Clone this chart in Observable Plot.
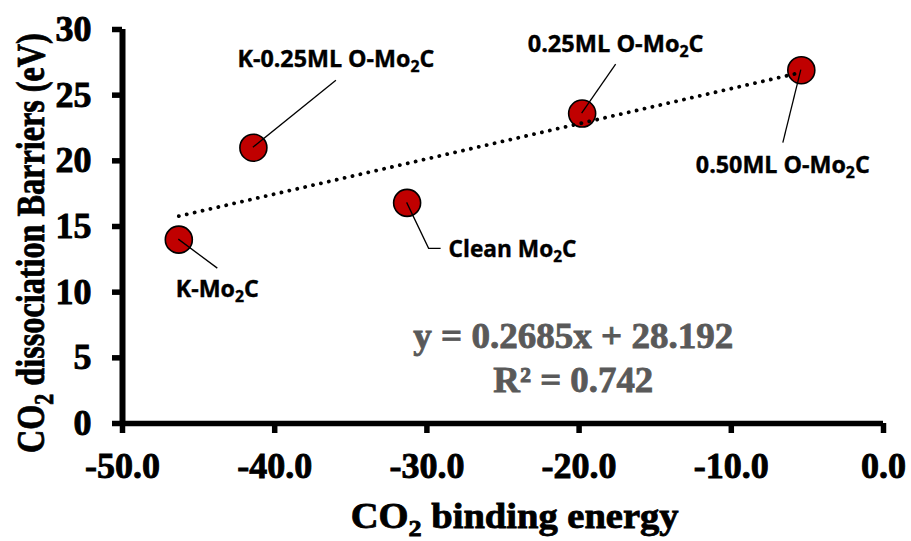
<!DOCTYPE html>
<html>
<head>
<meta charset="utf-8">
<script src="https://cdn.jsdelivr.net/npm/d3@7"></script>
<script src="https://cdn.jsdelivr.net/npm/@observablehq/plot@0.6"></script>
<style>
  body { margin: 0; background: #fff; }
  #chart svg { display: block; background: #fff; }
</style>
</head>
<body>
<div id="chart"></div>
<script>
// ---------------- data ----------------
const samples = ["K-Mo₂C", "K-0.25ML O-Mo₂C", "Clean Mo₂C", "0.25ML O-Mo₂C", "0.50ML O-Mo₂C"];
const bindingEnergy = [-46.3, -41.4, -31.3, -19.8, -5.4];
const barrier = [14.0, 21.0, 16.8, 23.6, 26.9];
const xTicks = [-50, -40, -30, -20, -10, 0];
const xTickLabels = ["-50.0", "-40.0", "-30.0", "-20.0", "-10.0", "0.0"];
const yTicks = [0, 5, 10, 15, 20, 25, 30];
const yTickLabels = ["0", "5", "10", "15", "20", "25", "30"];
const equationText = "y = 0.2685x + 28.192";
const r2Text = "R² = 0.742";
const xTitle = "CO₂ binding energy";
const yTitle = "CO₂ dissociation Barriers (eV)";

// ---------------- layout (pixels, relative to each point) ----------------
const labelLayout = [
  {path: [[0, 0], [39, 29]], tx: 39, ty: 58, anchor: "middle", w: 83},
  {path: [[0, 0], [83, -67]], tx: 83, ty: -80, anchor: "middle", w: 197},
  {path: [[0, 0], [22, 46], [34, 46]], tx: 42, ty: 55, anchor: "start", w: 128},
  {path: [[0, 0], [34, -49]], tx: 34, ty: -61, anchor: "middle", w: 176},
  {path: [[0, 0], [-18, 73]], tx: -18, ty: 103, anchor: "middle", w: 174}
];

const data = samples.map((s, i) => ({sample: s, x: bindingEnergy[i], y: barrier[i]}));
const serif = "'Liberation Serif', 'Times New Roman', serif";
const sans = "'Open Sans', 'Noto Sans', sans-serif";

const plot = Plot.plot({
  width: 911,
  height: 541,
  marginLeft: 122,
  marginRight: 28,
  marginTop: 29,
  marginBottom: 118,
  style: {fontFamily: serif, fontSize: "36px", fontWeight: "bold", color: "black", background: "white"},
  x: {domain: [-50, 0]},
  y: {domain: [0, 30]},
  marks: [
    Plot.axisX({ticks: xTicks, tickFormat: d => xTickLabels[xTicks.indexOf(d)], tickSize: 10, tickPadding: 19, strokeWidth: 5.5, label: null}),
    Plot.axisY({ticks: yTicks, tickFormat: d => yTickLabels[yTicks.indexOf(d)], tickSize: 10, tickPadding: 21, strokeWidth: 5.5, label: null}),
    Plot.ruleY([0], {stroke: "black", strokeWidth: 5.5}),
    Plot.ruleX([-50], {stroke: "black", strokeWidth: 6}),
    Plot.dot(data, {x: "x", y: "y", r: 13.5, fill: "#C00000", stroke: "black", strokeWidth: 1.6}),
    Plot.linearRegressionY(data, {x: "x", y: "y", ci: 0, stroke: "black", strokeWidth: 3.8, strokeDasharray: "0.1 8", strokeLinecap: "round"})
  ]
});

document.getElementById("chart").appendChild(plot);
const svg = d3.select(plot);
const sx = plot.scale("x"), sy = plot.scale("y");

// tick label styling (only the axis texts exist at this point)
svg.selectAll("text")
  .style("font-size", "36px").style("font-weight", "bold").style("font-family", serif)
  .style("fill", "black").style("stroke", "black").style("stroke-width", "0.9px");

// text with subscript "₂"
function richText(g, str, opts) {
  const fs = opts.fontSize;
  const fill = opts.fill || "black";
  const t = g.append("text")
    .attr("font-family", opts.family)
    .attr("font-size", fs)
    .attr("font-weight", "bold")
    .attr("fill", fill)
    .attr("stroke", fill)
    .attr("stroke-width", opts.halo || 0)
    .attr("text-anchor", opts.anchor || "middle");
  const parts = str.split("₂");
  parts.forEach((p, i) => {
    if (i > 0) {
      t.append("tspan").attr("font-size", fs * 0.68).attr("dy", fs * 0.22).text("2");
      t.append("tspan").attr("dy", -fs * 0.22).text(p);
    } else {
      t.append("tspan").text(p);
    }
  });
  const w0 = t.node().getComputedTextLength();
  const k = opts.width ? opts.width / w0 : 1;
  t.attr("transform", `translate(${opts.x},${opts.y}) rotate(${opts.rotate || 0}) scale(${k},1)`);
  return t;
}

const ann = svg.append("g");
// leader lines and point labels
data.forEach((d, i) => {
  const cx = sx.apply(d.x), cy = sy.apply(d.y);
  const L = labelLayout[i];
  ann.append("path")
    .attr("d", d3.line()(L.path.map(([dx, dy]) => [cx + dx, cy + dy])))
    .attr("fill", "none").attr("stroke", "black").attr("stroke-width", 1.3);
  richText(ann, d.sample, {x: cx + L.tx, y: cy + L.ty, fontSize: 23, family: sans, anchor: L.anchor, width: L.w, halo: 0.4});
});

// regression equation
const eqX = sx.apply(-20.35);
richText(ann, equationText, {x: eqX, y: sy.apply(5.73), fontSize: 35, family: serif, fill: "#595959", width: 320, halo: 0.8});
richText(ann, r2Text, {x: eqX, y: sy.apply(2.38), fontSize: 35, family: serif, fill: "#595959", width: 160, halo: 0.8});

// axis titles
richText(ann, xTitle, {x: sx.apply(-24.2), y: 528, fontSize: 35, family: serif, width: 328, halo: 0.8});
richText(ann, yTitle, {x: 44, y: sy.apply(13.7), fontSize: 41, family: serif, rotate: -90, width: 420, halo: 0.8});
</script>
</body>
</html>
